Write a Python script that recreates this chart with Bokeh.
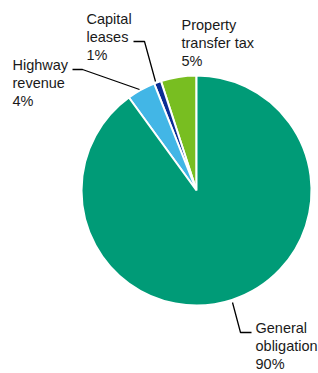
import numpy as np
from bokeh.plotting import figure
from bokeh.models import Range1d, ColumnDataSource
from bokeh.core.properties import value
from bokeh.embed import file_html
from bokeh.resources import INLINE

categories = ["Property transfer tax", "Capital leases", "Highway revenue", "General obligation"]
shares = [5, 1, 4, 90]
labels = ["Property\ntransfer tax\n5%", "Capital\nleases\n1%", "Highway\nrevenue\n4%", "General\nobligation\n90%"]
colors = ["#78be21", "#0b2d94", "#42b6e6", "#009b77"]

W, H = 318, 373

def py(y):
    # page pixel y -> data y
    return H - y

p = figure(width=W, height=H, output_backend="svg", toolbar_location=None,
           x_range=Range1d(0, W), y_range=Range1d(0, H),
           min_border=0, outline_line_color=None)
p.axis.visible = False
p.grid.visible = False
p.background_fill_color = "white"
p.border_fill_color = "white"

vals = np.array(shares, dtype=float)
frac = vals / vals.sum()
cum = np.cumsum(frac)
start = np.pi / 2 + 2 * np.pi * np.concatenate([[0], cum[:-1]])
end = np.pi / 2 + 2 * np.pi * cum

cx, cy, r = 196, py(190), 115
src = ColumnDataSource(dict(start=start, end=end, color=colors, cat=categories))
p.wedge(x=cx, y=cy, radius=r, start_angle="start", end_angle="end",
        direction="anticlock", fill_color="color", line_color="white",
        line_width=2, source=src)

# label positions (layout)
lx = [181, 86, 12, 255]
ly = [16, 10.5, 56, 319]
p.text(x=lx, y=[py(v) for v in ly], text=labels, text_font=value("Liberation Sans"),
       text_font_size="14.5px", text_color="#1a1a1a", text_baseline="top",
       text_align="left", text_line_height=1.14)

# leader lines
leaders = [
    ([133, 144, 155], [41, 41, 81]),
    ([72, 82, 139], [69, 69, 89]),
    ([232, 240, 251], [302, 332, 332]),
]
for xs, ys in leaders:
    p.line(xs, [py(v) for v in ys], line_color="black", line_width=1.3)

open("out.html", "w").write(file_html(p, INLINE))
